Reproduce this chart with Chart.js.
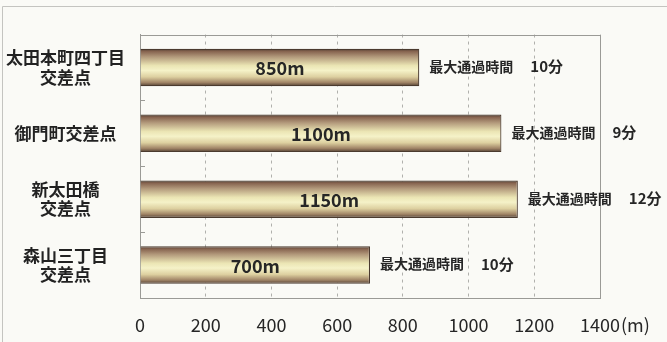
<!DOCTYPE html>
<html>
<head>
<meta charset="utf-8">
<script src="https://cdn.jsdelivr.net/npm/chart.js@4/dist/chart.umd.min.js"></script>
<style>
  html, body { margin: 0; padding: 0; background: #fafaf6; }
  #wrap { width: 667px; height: 342px; }
</style>
</head>
<body>
<div id="wrap"><canvas id="c" width="667" height="342"></canvas></div>
<script>
// Intersections (two-line names are given as arrays of lines)
const categories = [['太田本町四丁目', '交差点'], '御門町交差点', ['新太田橋', '交差点'], ['森山三丁目', '交差点']];
// Length of the queue at each intersection, in metres
const distances = [850, 1100, 1150, 700];
// Longest time to get through, in minutes
const maxMinutes = [10, 9, 12, 10];
// Distance axis ticks
const xTicks = [0, 200, 400, 600, 800, 1000, 1200, 1400];
const distanceUnit = '(m)';
const timeCaption = '最大通過時間';

const FONT = '"Noto Sans CJK JP", "Noto Sans", sans-serif';
const BAR_PCT = 0.57;

// Brown-to-cream tube shading across the thickness of each bar
function tubeFill(context) {
  const chart = context.chart;
  const yScale = chart.scales.y;
  if (!chart.chartArea || !yScale || context.type !== 'data') return '#d9cc9c';
  const centre = yScale.getPixelForValue(context.dataIndex);
  const half = (yScale.height / categories.length) * BAR_PCT / 2;
  const g = chart.ctx.createLinearGradient(0, centre - half, 0, centre + half);
  g.addColorStop(0.00, '#4e3d31');
  g.addColorStop(0.07, '#86634f');
  g.addColorStop(0.22, '#b39a7c');
  g.addColorStop(0.45, '#ebe5b4');
  g.addColorStop(0.58, '#f5f2c8');
  g.addColorStop(0.75, '#ddd0a0');
  g.addColorStop(0.90, '#a08466');
  g.addColorStop(1.00, '#4e3d31');
  return g;
}

const framePlugin = {
  id: 'frame',
  beforeDraw(chart) {
    const ctx = chart.ctx;
    ctx.save();
    ctx.fillStyle = '#fafaf6';
    ctx.fillRect(0, 0, chart.width, chart.height);
    ctx.strokeStyle = '#c4c4c0';
    ctx.lineWidth = 1;
    ctx.beginPath();
    ctx.moveTo(2.5, chart.height);
    ctx.lineTo(2.5, 6.5);
    ctx.lineTo(chart.width, 6.5);
    ctx.stroke();
    ctx.restore();
  },
  beforeDatasetsDraw(chart) {
    const { ctx, chartArea: a, scales: { y } } = chart;
    ctx.save();
    ctx.strokeStyle = '#9a9a96';
    ctx.lineWidth = 1;
    ctx.strokeRect(Math.round(a.left) + 0.5, Math.round(a.top) + 0.5,
                   Math.round(a.right - a.left), Math.round(a.bottom - a.top));
    // short inward marks between categories
    ctx.beginPath();
    for (let i = 1; i < categories.length; i++) {
      const yy = Math.round((y.getPixelForValue(i - 1) + y.getPixelForValue(i)) / 2) + 0.5;
      ctx.moveTo(a.left, yy);
      ctx.lineTo(a.left + 5, yy);
    }
    ctx.stroke();
    ctx.restore();
  }
};

const labelPlugin = {
  id: 'barLabels',
  afterDatasetsDraw(chart) {
    const ctx = chart.ctx;
    const meta = chart.getDatasetMeta(0);
    ctx.save();
    ctx.fillStyle = '#262626';
    ctx.textBaseline = 'middle';
    meta.data.forEach((bar, i) => {
      // distance inside the bar
      ctx.font = 'bold 18px ' + FONT;
      ctx.textAlign = 'center';
      ctx.fillText(distances[i] + 'm', (bar.x + bar.base) / 2, bar.y + 1);
      // passing time to the right of the bar
      ctx.font = 'bold 14px ' + FONT;
      ctx.textAlign = 'left';
      const x0 = bar.x + 10;
      ctx.fillText(timeCaption, x0, bar.y - 1);
      const w = ctx.measureText(timeCaption).width;
      ctx.font = 'bold 15px ' + FONT;
      ctx.fillText(maxMinutes[i] + '分', x0 + w + 17, bar.y - 1);
    });
    ctx.restore();
  },
  afterDraw(chart) {
    const ctx = chart.ctx;
    const x = chart.scales.x;
    const last = xTicks[xTicks.length - 1];
    ctx.save();
    ctx.font = '18px ' + FONT;
    ctx.fillStyle = '#262626';
    ctx.textBaseline = 'middle';
    ctx.textAlign = 'left';
    const w = ctx.measureText(String(last)).width;
    ctx.fillText(distanceUnit, x.getPixelForValue(last) + w / 2 + 1, x.bottom - 17);
    ctx.restore();
  }
};

new Chart(document.getElementById('c'), {
  type: 'bar',
  data: {
    labels: categories,
    datasets: [{
      data: distances,
      backgroundColor: tubeFill,
      borderColor: '#4a3a2e',
      borderWidth: 1.2,
      borderSkipped: 'start',
      barPercentage: BAR_PCT,
      categoryPercentage: 1
    }]
  },
  options: {
    indexAxis: 'y',
    responsive: false,
    animation: false,
    devicePixelRatio: 1,
    layout: { padding: { top: 29, right: 67, left: 0, bottom: 0 } },
    plugins: { legend: { display: false }, tooltip: { enabled: false } },
    scales: {
      x: {
        min: 0,
        max: 1400,
        afterBuildTicks: s => { s.ticks = xTicks.map(v => ({ value: v })); },
        afterFit: s => { s.height = 44; },
        grid: { color: '#b0b0ac', drawTicks: false, lineWidth: 1 },
        border: { display: true, color: '#9a9a96', dash: [3, 4] },
        ticks: {
          padding: 16,
          color: '#262626',
          font: { family: FONT, size: 18 },
          maxRotation: 0,
          autoSkip: false,
          callback: v => String(v)
        }
      },
      y: {
        afterFit: s => { s.width = 140; },
        grid: { display: false, drawTicks: false },
        border: { display: true, color: '#9a9a96' },
        ticks: {
          crossAlign: 'center',
          padding: 15,
          color: '#222',
          font: { family: FONT, size: 17, weight: 'bold', lineHeight: 1.15 }
        }
      }
    }
  },
  plugins: [framePlugin, labelPlugin]
});
</script>
</body>
</html>
